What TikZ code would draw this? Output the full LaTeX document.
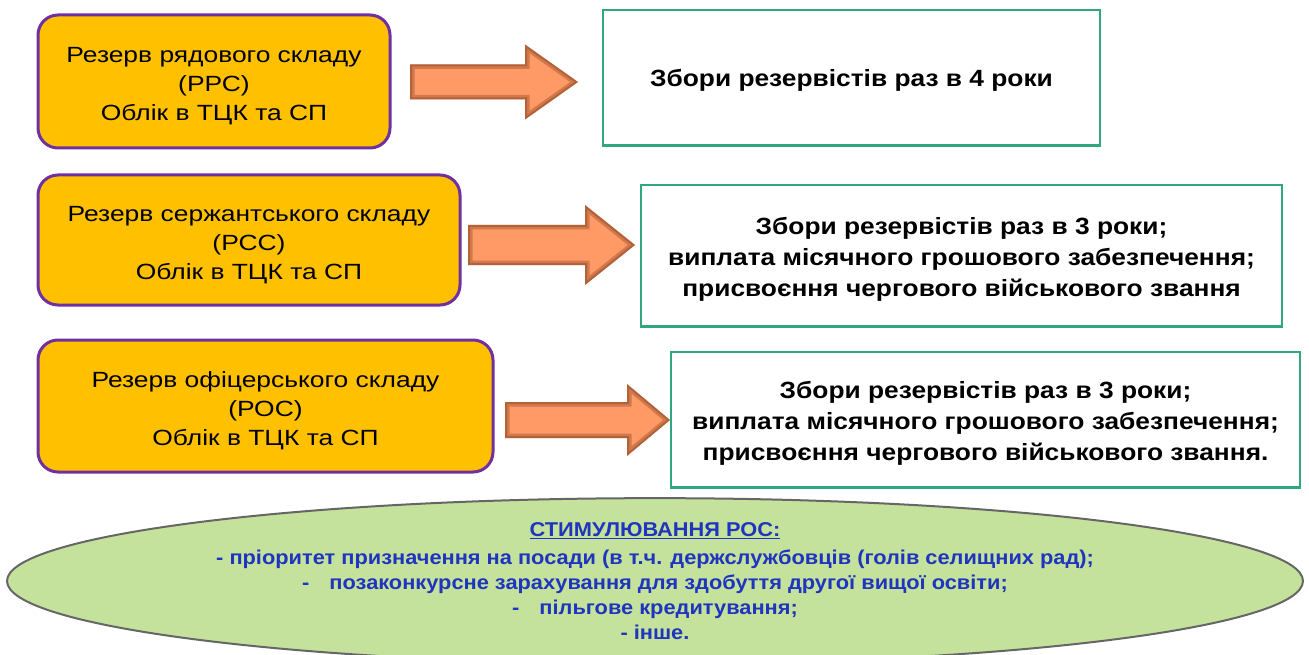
\documentclass[tikz,border=0pt]{standalone}
\usepackage{fontspec}
\setmainfont{Liberation Sans}
\newfontfamily\orangefont[FakeStretch=1.2]{Liberation Sans}
\newfontfamily\greenfont[FakeStretch=1.12]{Liberation Sans}
\newfontfamily\ellfont[FakeStretch=1.09]{Liberation Sans}
\usetikzlibrary{calc,shapes.geometric}
\definecolor{boxorange}{HTML}{FFC000}
\definecolor{boxpurple}{HTML}{7030A0}
\definecolor{boxgreen}{HTML}{2FA77F}
\definecolor{arrfill}{HTML}{FF9A66}
\definecolor{arredge}{HTML}{6A2E10}
\definecolor{ellfill}{HTML}{C4E29B}
\definecolor{elltext}{HTML}{1F35C0}
\newcommand{\lift}[1]{\rule{0pt}{#1}}
\tikzset{
  resbox/.style={draw=boxpurple, line width=3pt, fill=boxorange, rounded corners=20pt,
    align=center, inner sep=0pt, font=\orangefont\fontsize{22}{29}\selectfont},
  infobox/.style={draw=boxgreen, line width=1.5pt, fill=white, align=center, inner sep=0pt,
    font=\greenfont\fontsize{23.5}{31}\selectfont\bfseries},
  stimell/.style={ellipse, draw=black!60, line width=2pt, fill=ellfill, inner sep=0pt,
    align=center, text=elltext, font=\ellfont\fontsize{20}{25}\selectfont\bfseries},
  arrbody/.style={fill=arrfill},
  arrglow/.style={draw=arredge, opacity=0.3},
}
% block arrow: #1 = tail x, #2 = head start x, #3 = tip x, #4 = centre y, #5 = shaft half, #6 = head half
\newcommand{\blockarr}[6]{%
  \path[arrbody] (#1,#4-#5) -- (#2,#4-#5) -- (#2,#4-#6) -- (#3,#4) -- (#2,#4+#6) -- (#2,#4+#5) -- (#1,#4+#5) -- cycle;
  \begin{scope}
    \clip (#1,#4-#5) -- (#2,#4-#5) -- (#2,#4-#6) -- (#3,#4) -- (#2,#4+#6) -- (#2,#4+#5) -- (#1,#4+#5) -- cycle;
    \draw[arrglow, line width=9pt] (#1,#4-#5) -- (#2,#4-#5) -- (#2,#4-#6) -- (#3,#4) -- (#2,#4+#6) -- (#2,#4+#5) -- (#1,#4+#5) -- cycle;
    \draw[arrglow, line width=4pt] (#1,#4-#5) -- (#2,#4-#5) -- (#2,#4-#6) -- (#3,#4) -- (#2,#4+#6) -- (#2,#4+#5) -- (#1,#4+#5) -- cycle;
  \end{scope}}
\begin{document}
\begin{tikzpicture}[x=1pt,y=-1pt]
\useasboundingbox (0,0) rectangle (1309,655);

% left reserve boxes
\node[resbox, minimum width=352pt, minimum height=133pt] (r1) at (214,81.5)
  {\lift{25pt}Резерв рядового складу\\(РРС)\\Облік в ТЦК та СП};
\node[resbox, minimum width=422pt, minimum height=130pt] (r2) at (249,240)
  {\lift{25pt}Резерв сержантського складу\\(РСС)\\Облік в ТЦК та СП};
\node[resbox, minimum width=455pt, minimum height=132pt] (r3) at (265.5,406)
  {\lift{25pt}Резерв офіцерського складу\\(РОС)\\Облік в ТЦК та СП};

% right info boxes
\node[infobox, minimum width=497pt, minimum height=135pt] (g1) at (851.5,77.5)
  {\lift{23pt}Збори резервістів раз в 4 роки};
\node[infobox, minimum width=641pt, minimum height=141pt] (g2) at (961.5,255.5)
  {\lift{24pt}Збори резервістів раз в 3 роки;\\виплата місячного грошового забезпечення;\\присвоєння чергового військового звання};
\node[infobox, minimum width=629pt, minimum height=135pt] (g3) at (985.5,419.5)
  {\lift{25pt}Збори резервістів раз в 3 роки;\\виплата місячного грошового забезпечення;\\присвоєння чергового військового звання.};
\foreach \g in {g1,g2,g3}
  \draw[boxgreen, line width=3pt] (\g.south west) -- (\g.south east);

% block arrows
\blockarr{410}{525}{578}{82}{17.5}{37.5}
\blockarr{468}{585}{635}{245}{20}{40}
\blockarr{505}{627}{670}{420}{18}{36}

% stimulation ellipse
\node[stimell, minimum width=1296pt, minimum height=142pt] (st) at (655,581)
  {\underline{СТИМУЛЮВАННЯ РОС:}\\[3pt]
   - пріоритет призначення на посади (в т.ч. держслужбовців (голів селищних рад);\\
   -\quad позаконкурсне зарахування для здобуття другої вищої освіти;\\
   -\quad пільгове кредитування;\\
   - інше.};
\end{tikzpicture}
\end{document}
